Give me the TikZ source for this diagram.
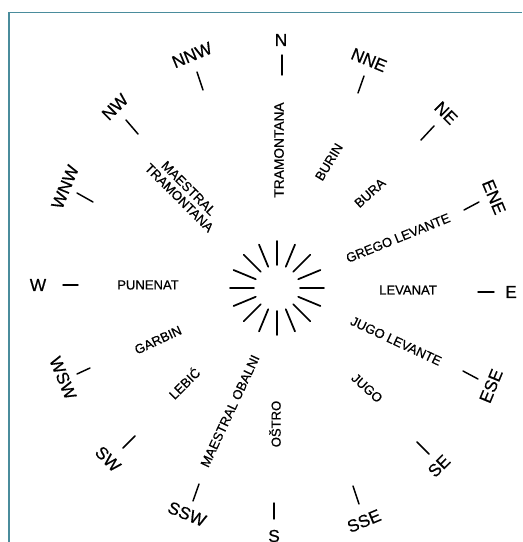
\documentclass[tikz,border=0pt]{standalone}
\usepackage{fontspec}
\setmainfont{Liberation Sans}[FakeBold=0.5]
\usetikzlibrary{calc}
\definecolor{frameteal}{HTML}{4A8C9C}
\begin{document}
\begin{tikzpicture}[x=0.75pt,y=-0.75pt,
  dirlabel/.style={inner sep=0pt,font=\fontsize{13}{13}\selectfont},
  windlabel/.style={inner sep=0pt,font=\fontsize{9.8}{11}\selectfont,align=center},
  spoke/.style={line width=1.3pt,line cap=round},
  tick/.style={line width=1.1pt,line cap=round}]
\useasboundingbox (0,0) rectangle (522,542);
\fill[white] (0,0) rectangle (522,542);
% frame (top and left edges visible)
\draw[frameteal,line width=1.4pt] (9,542) -- (9,12.5) -- (522,12.5);
% central star
\coordinate (c) at (277,288);
\foreach \a in {0,22.5,...,337.5}{
  \draw[spoke] ($(c)+(\a:23)$) -- ($(c)+(\a:47)$);
}
% direction ticks
\foreach \xa/\ya/\xb/\yb in {282/55/282/75, 364/76/358/93, 434/126/421/140, 479/202/464/210,
  478/292/494/292, 463/371/478/379, 417/442/429/454, 353/486/359/504,
  274/503/274/519, 199/484/193/501, 135/436/123/448, 90/368/77/374,
  63/285/78/285, 77/193/93/202, 126/120/138/134, 197/72/203/90}{
  \draw[tick] (\xa,\ya) -- (\xb,\yb);
}
% direction labels
\node[dirlabel] (n) at (281,40) {N};
\node[dirlabel,rotate=-22.5] (nne) at (369,60) {NNE};
\node[dirlabel,rotate=-45] (ne) at (446,113) {NE};
\node[dirlabel,rotate=-67.5] (ene) at (494,197) {ENE};
\node[dirlabel] (e) at (511,292) {E};
\node[dirlabel,rotate=67.5] (ese) at (491,386) {ESE};
\node[dirlabel,rotate=45] (se) at (439,466) {SE};
\node[dirlabel,rotate=22.5] (sse) at (364,521) {SSE};
\node[dirlabel] (s) at (274,536) {S};
\node[dirlabel,rotate=-22.5] (ssw) at (187,514) {SSW};
\node[dirlabel,rotate=-45] (sw) at (108,459) {SW};
\node[dirlabel,rotate=-67.5] (wsw) at (63,378) {WSW};
\node[dirlabel] (w) at (38,285) {W};
\node[dirlabel,rotate=67.5] (wnw) at (65,187) {WNW};
\node[dirlabel,rotate=45] (nw) at (115,107) {NW};
\node[dirlabel,rotate=22.5] (nnw) at (192,55) {NNW};
% wind names
\node[windlabel,rotate=90,font=\fontsize{10.3}{11}\selectfont] (tramontana) at (279,150) {TRAMONTANA};
\node[windlabel,rotate=59] (burin) at (329,162) {BURIN};
\node[windlabel,rotate=42] (bura) at (370,193) {BURA};
\node[windlabel,rotate=22] (grego) at (398,238) {GREGO LEVANTE};
\node[windlabel] (levanat) at (408,290) {LEVANAT};
\node[windlabel,rotate=-25] (jugolev) at (396,341) {JUGO LEVANTE};
\node[windlabel,rotate=-42] (jugo) at (367,388) {JUGO};
\node[windlabel,rotate=90] (ostro) at (275,424) {OŠTRO};
\node[windlabel,rotate=65] (maestralob) at (230,411) {MAESTRAL OBALNI};
\node[windlabel,rotate=45] (lebic) at (184,383) {LEBIĆ};
\node[windlabel,rotate=25] (garbin) at (158,340) {GARBIN};
\node[windlabel] (punenat) at (148,285) {PUNENAT};
\node[windlabel,rotate=-45,font=\fontsize{9.8}{10}\selectfont] (maestraltr) at (184,193) {MAESTRAL\\TRAMONTANA};
\end{tikzpicture}
\end{document}
